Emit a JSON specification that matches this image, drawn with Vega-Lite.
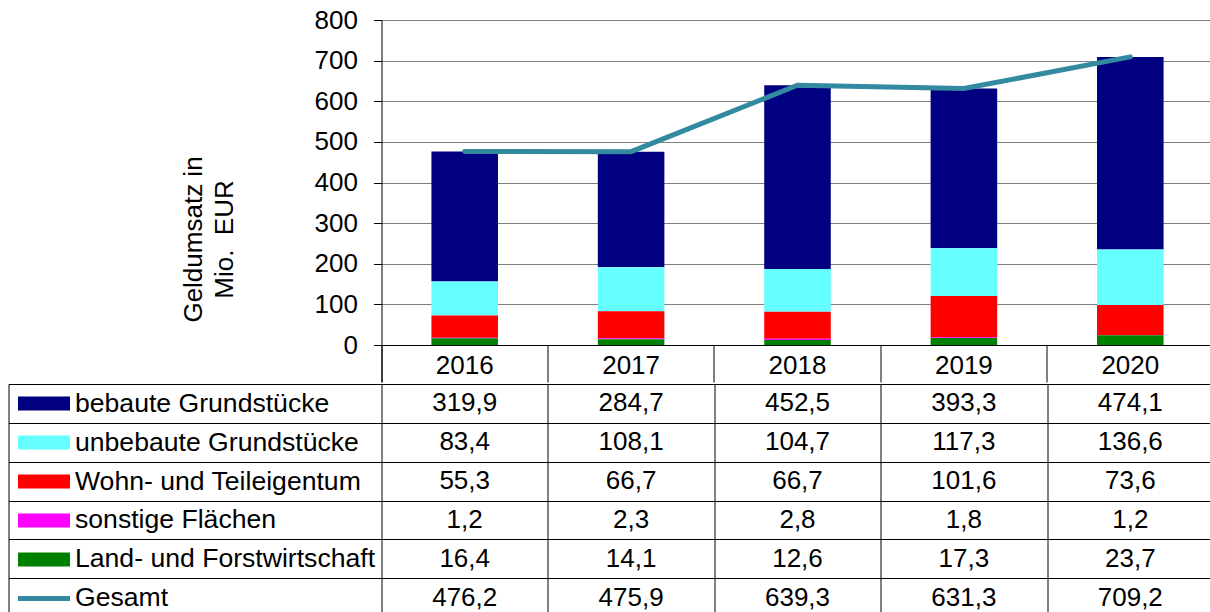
{
  "$schema": "https://vega.github.io/schema/vega-lite/v6.json",
  "padding": {"left": 7.5, "top": 7, "right": 0, "bottom": 0},
  "background": "white",
  "spacing": 0,
  "config": {
    "locale": {"number": {"decimal": ",", "thousands": ".", "grouping": [3], "currency": ["", " €"]}},
    "font": "Liberation Sans",
    "view": {"stroke": null},
    "axis": {"labelFont": "Liberation Sans", "titleFont": "Liberation Sans", "labelFontSize": 26, "titleFontSize": 26, "labelColor": "black", "titleColor": "black", "titleFontWeight": "normal"}
  },
  "datasets": {
    "rows": [
      {"year": "2016", "series": "bebaute Grundstücke", "value": 319.9},
      {"year": "2017", "series": "bebaute Grundstücke", "value": 284.7},
      {"year": "2018", "series": "bebaute Grundstücke", "value": 452.5},
      {"year": "2019", "series": "bebaute Grundstücke", "value": 393.3},
      {"year": "2020", "series": "bebaute Grundstücke", "value": 474.1},
      {"year": "2016", "series": "unbebaute Grundstücke", "value": 83.4},
      {"year": "2017", "series": "unbebaute Grundstücke", "value": 108.1},
      {"year": "2018", "series": "unbebaute Grundstücke", "value": 104.7},
      {"year": "2019", "series": "unbebaute Grundstücke", "value": 117.3},
      {"year": "2020", "series": "unbebaute Grundstücke", "value": 136.6},
      {"year": "2016", "series": "Wohn- und Teileigentum", "value": 55.3},
      {"year": "2017", "series": "Wohn- und Teileigentum", "value": 66.7},
      {"year": "2018", "series": "Wohn- und Teileigentum", "value": 66.7},
      {"year": "2019", "series": "Wohn- und Teileigentum", "value": 101.6},
      {"year": "2020", "series": "Wohn- und Teileigentum", "value": 73.6},
      {"year": "2016", "series": "sonstige Flächen", "value": 1.2},
      {"year": "2017", "series": "sonstige Flächen", "value": 2.3},
      {"year": "2018", "series": "sonstige Flächen", "value": 2.8},
      {"year": "2019", "series": "sonstige Flächen", "value": 1.8},
      {"year": "2020", "series": "sonstige Flächen", "value": 1.2},
      {"year": "2016", "series": "Land- und Forstwirtschaft", "value": 16.4},
      {"year": "2017", "series": "Land- und Forstwirtschaft", "value": 14.1},
      {"year": "2018", "series": "Land- und Forstwirtschaft", "value": 12.6},
      {"year": "2019", "series": "Land- und Forstwirtschaft", "value": 17.3},
      {"year": "2020", "series": "Land- und Forstwirtschaft", "value": 23.7},
      {"year": "2016", "series": "Gesamt", "value": 476.2},
      {"year": "2017", "series": "Gesamt", "value": 475.9},
      {"year": "2018", "series": "Gesamt", "value": 639.3},
      {"year": "2019", "series": "Gesamt", "value": 631.3},
      {"year": "2020", "series": "Gesamt", "value": 709.2}
    ]
  },
  "vconcat": [
    {
      "width": 832,
      "height": 325,
      "data": {"name": "rows"},
      "layer": [
        {
          "transform": [
            {"filter": "datum.series !== 'Gesamt'"},
            {"calculate": "indexof(['Land- und Forstwirtschaft', 'sonstige Flächen', 'Wohn- und Teileigentum', 'unbebaute Grundstücke', 'bebaute Grundstücke'], datum.series)", "as": "stackorder"}
          ],
          "mark": {"type": "bar", "width": {"band": 0.4}},
          "encoding": {
            "x": {
              "field": "year", "type": "nominal",
              "scale": {"paddingInner": 0, "paddingOuter": 0},
              "axis": {"title": null, "labelAngle": 0, "domainColor": "black", "tickColor": "black", "tickSize": 37, "bandPosition": 0, "tickExtra": true, "labelPadding": -30, "labelBaseline": "top", "grid": false, "zindex": 1}
            },
            "y": {
              "field": "value", "type": "quantitative", "stack": "zero",
              "scale": {"domain": [0, 800], "nice": false},
              "axis": {
                "values": [0, 100, 200, 300, 400, 500, 600, 700, 800],
                "domainColor": "black", "tickColor": "black", "tickSize": 8, "labelPadding": 16,
                "gridColor": "#808080",
                "title": ["Geldumsatz in", "Mio.\u00a0 EUR"],
                "titleAngle": -90, "titleX": -188, "titleY": 219, "titleAlign": "center", "titleBaseline": "middle", "titleLineHeight": 31
              }
            },
            "order": {"field": "stackorder", "type": "quantitative", "sort": "ascending"},
            "color": {
              "field": "series", "type": "nominal",
              "scale": {
                "domain": ["Land- und Forstwirtschaft", "sonstige Flächen", "Wohn- und Teileigentum", "unbebaute Grundstücke", "bebaute Grundstücke"],
                "range": ["#008000", "#FF00FF", "#FF0000", "#66FFFF", "#000080"]
              },
              "legend": null
            }
          }
        },
        {
          "transform": [{"filter": "datum.series === 'Gesamt'"}],
          "mark": {"type": "line", "color": "#3389A0", "strokeWidth": 5, "strokeCap": "round"},
          "encoding": {
            "x": {"field": "year", "type": "nominal"},
            "y": {"field": "value", "type": "quantitative"}
          }
        }
      ]
    },
    {
      "width": 832,
      "height": 233,
      "data": {"name": "rows"},
      "layer": [
        {
          "mark": {"type": "text", "fontSize": 26, "font": "Liberation Sans", "color": "black"},
          "encoding": {
            "x": {
              "field": "year", "type": "nominal",
              "scale": {"paddingInner": 0, "paddingOuter": 0},
              "axis": {"orient": "top", "title": null, "labels": false, "domain": false, "grid": false, "ticks": true, "tickColor": "black", "tickBand": "extent", "tickSize": -233}
            },
            "y": {
              "field": "series", "type": "nominal",
              "scale": {"domain": ["bebaute Grundstücke", "unbebaute Grundstücke", "Wohn- und Teileigentum", "sonstige Flächen", "Land- und Forstwirtschaft", "Gesamt"], "paddingInner": 0, "paddingOuter": 0},
              "axis": {
                "orient": "left", "title": null, "domain": false, "grid": false, "ticks": true,
                "offset": 312, "tickSize": 52, "labelPadding": -57, "labelAlign": "left", "labelBaseline": "middle", "labelLimit": 400,
                "labelFontSize": 26.6,
                "tickCap": "butt",
                "tickColor": {
                  "condition": [
                    {"test": "datum.value === 'bebaute Grundstücke'", "value": "#000080"},
                    {"test": "datum.value === 'unbebaute Grundstücke'", "value": "#66FFFF"},
                    {"test": "datum.value === 'Wohn- und Teileigentum'", "value": "#FF0000"},
                    {"test": "datum.value === 'sonstige Flächen'", "value": "#FF00FF"},
                    {"test": "datum.value === 'Land- und Forstwirtschaft'", "value": "#008000"}
                  ],
                  "value": "#3389A0"
                },
                "tickWidth": {"condition": {"test": "datum.value === 'Gesamt'", "value": 5}, "value": 14}
              }
            },
            "text": {"field": "value", "type": "quantitative", "format": ".1f"}
          }
        },
        {
          "mark": {"type": "point", "opacity": 0},
          "encoding": {
            "y": {
              "field": "series", "type": "nominal",
              "scale": {"domain": ["bebaute Grundstücke", "unbebaute Grundstücke", "Wohn- und Teileigentum", "sonstige Flächen", "Land- und Forstwirtschaft", "Gesamt"], "paddingInner": 0, "paddingOuter": 0},
              "axis": {
                "orient": "left", "title": null, "labels": false, "grid": false,
                "domain": true, "domainColor": "black", "ticks": true, "tickColor": "black", "tickBand": "extent", "tickSize": -1205, "offset": 373
              }
            }
          }
        }
      ],
      "resolve": {"scale": {"y": "independent"}, "axis": {"y": "independent"}}
    }
  ]
}
